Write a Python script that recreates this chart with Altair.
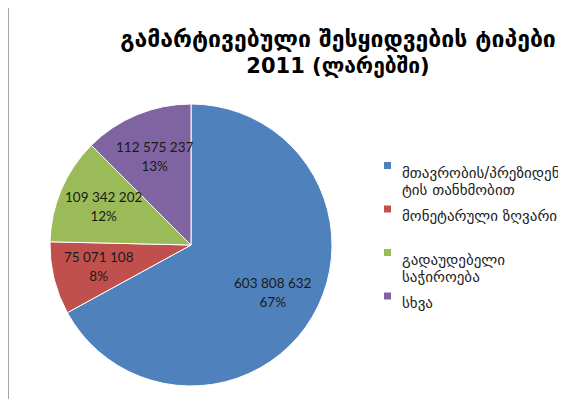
import json
import altair as alt
import pandas as pd

# ---- data ----
categories = [
    "მთავრობის/პრეზიდენტის თანხმობით",
    "მონეტარული ზღვარი",
    "გადაუდებელი საჭიროება",
    "სხვა",
]
legend_lines = [
    ["მთავრობის/პრეზიდენ", "ტის თანხმობით"],
    ["მონეტარული ზღვარი"],
    ["გადაუდებელი", "საჭიროება"],
    ["სხვა"],
]
values = [603808632, 75071108, 109342202, 112575237]
percents = [67, 8, 12, 13]
colors = ["#4F81BD", "#C0504D", "#9BBB59", "#8064A2"]
title_text = "გამარტივებული შესყიდვების ტიპები"
subtitle_text = "2011 (ლარებში)"

labels = [f"{v:,}".replace(",", " ") + "\n" + f"{p}%" for v, p in zip(values, percents)]

df = pd.DataFrame({
    "category": categories,
    "value": values,
    "order": list(range(len(categories))),
    "label": labels,
})

label_expr = ""
for cat, lines in zip(categories, legend_lines):
    label_expr += f"datum.label == {json.dumps(cat, ensure_ascii=False)} ? {json.dumps(lines, ensure_ascii=False)} : "
label_expr += "datum.label"

W, H = 366, 274

base = alt.Chart(df).encode(
    theta=alt.Theta("value:Q", stack=True),
    order=alt.Order("order:Q"),
)

arc = base.mark_arc(outerRadius=141, stroke="white", strokeWidth=1).encode(
    color=alt.Color(
        "category:N",
        scale=alt.Scale(domain=categories, range=colors),
        legend=alt.Legend(
            title=None,
            orient="none",
            legendX=372,
            legendY=50,
            symbolType="square",
            symbolSize=49,
            symbolStrokeWidth=0,
            labelFont="DejaVu Sans",
            labelFontSize=15,
            labelColor="#222222",
            labelLimit=260,
            labelOffset=7,
            labelExpr=label_expr,
            gridAlign="all",
            rowPadding=3.5,
            labelBaseline="top",
        ),
    )
)

text = base.mark_text(
    radius=95, font="Lato", fontSize=13.5, lineBreak="\n", lineHeight=19,
    dy=-9.5, color="#1a1a1a"
).encode(text="label:N", detail="category:N")

border = alt.Chart(df).mark_rule(color="#a6a6a6", strokeWidth=2).encode(
    x=alt.value(0), y=alt.value(-100), y2=alt.value(H + 17)
)

chart = (
    alt.layer(arc, text, border)
    .properties(
        width=W,
        height=H,
        padding={"left": 0, "top": 100, "right": 184, "bottom": 17},
        autosize="none",
        title=alt.TitleParams(
            text=title_text,
            subtitle=subtitle_text,
            font="DejaVu Sans",
            fontSize=23,
            fontWeight="bold",
            color="#000000",
            subtitleFont="DejaVu Sans",
            subtitleFontSize=21,
            subtitleFontWeight="bold",
            subtitleColor="#000000",
            subtitlePadding=4,
            anchor="middle",
            frame="group",
            dx=147,
            offset=-70,
        ),
    )
    .configure_view(stroke=None)
    .configure_legend(labelFontSize=15)
)

chart.save("out.html", embed_options={"renderer": "svg", "actions": False})
